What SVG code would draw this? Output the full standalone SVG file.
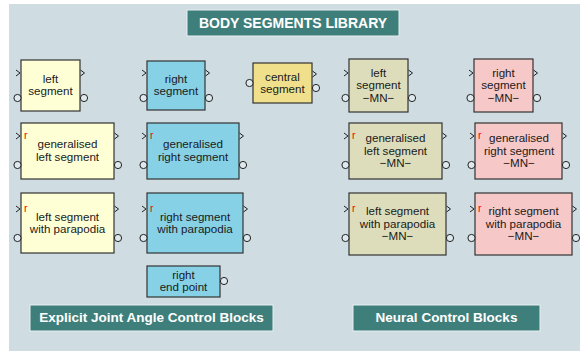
<svg xmlns="http://www.w3.org/2000/svg" width="580" height="351" viewBox="0 0 580 351">
  <style>
    .panel { fill: #cfdce2; }
    .banner { fill: #3f7f7b; stroke: #e6f0f0; stroke-width: 1; }
    .banner-text { font-family: "Liberation Sans", Arial, sans-serif; font-weight: bold; fill: #ffffff; text-anchor: middle; }
    .blk { stroke: #333333; stroke-width: 1.2; }
    .yellow { fill: #ffffd6; }
    .blue { fill: #87d1e7; }
    .gold { fill: #f0e08c; }
    .olive { fill: #ddddbb; }
    .pink { fill: #f7c8c8; }
    .lbl { font-family: "Liberation Sans", Arial, sans-serif; font-size: 11.6px; fill: #1a1a1a; text-anchor: middle; }
    .r { font-family: "Liberation Sans", Arial, sans-serif; font-size: 10.5px; fill: #ff0000; }
    .chev { fill: none; stroke: #222222; stroke-width: 1; }
    .port { fill: #dfe8ec; stroke: #222222; stroke-width: 1; }
  </style>
  <defs>
    <!-- inport / outport chevron, drawn with its tip at (0,0) -->
    <polyline id="chevIn" class="chev" points="-4,-3 0,0 -4,3"/>
    <polyline id="chevOut" class="chev" points="0,-3 4,0 0,3"/>
    <circle id="conn" class="port" r="3.6"/>
  </defs>

  <rect class="panel" x="9" y="4" width="571" height="347"/>

  <g id="title">
    <rect class="banner" x="187" y="10" width="212" height="26"/>
    <text class="banner-text" x="293" y="28" font-size="14">BODY SEGMENTS LIBRARY</text>
  </g>

  <!-- row 1 -->
  <g id="left-segment">
    <rect class="blk yellow" x="21" y="60" width="59" height="51"/>
    <use href="#chevIn" x="20" y="73"/>
    <use href="#chevOut" x="80.5" y="73"/>
    <use href="#conn" x="17.5" y="98"/>
    <use href="#conn" x="84" y="98"/>
    <text class="lbl" x="50.5" y="83">left</text>
    <text class="lbl" x="50.5" y="95">segment</text>
  </g>

  <g id="right-segment">
    <rect class="blk blue" x="147" y="61" width="58" height="49"/>
    <use href="#chevIn" x="146" y="73"/>
    <use href="#chevOut" x="205.5" y="73"/>
    <use href="#conn" x="143.5" y="98"/>
    <use href="#conn" x="209" y="98"/>
    <text class="lbl" x="176" y="83">right</text>
    <text class="lbl" x="176" y="95">segment</text>
  </g>

  <g id="central-segment">
    <rect class="blk gold" x="253" y="63" width="59" height="40"/>
    <use href="#conn" x="249.5" y="83"/>
    <use href="#chevOut" x="312.5" y="74"/>
    <use href="#conn" x="316" y="88"/>
    <text class="lbl" x="282.5" y="81">central</text>
    <text class="lbl" x="282.5" y="93">segment</text>
  </g>

  <g id="left-segment-mn">
    <rect class="blk olive" x="349" y="59" width="59" height="53"/>
    <use href="#chevIn" x="348" y="73"/>
    <use href="#chevOut" x="408.5" y="73"/>
    <use href="#conn" x="345.5" y="98"/>
    <use href="#conn" x="412" y="98"/>
    <text class="lbl" x="378.5" y="77">left</text>
    <text class="lbl" x="378.5" y="89">segment</text>
    <text class="lbl" x="378.5" y="102">−MN−</text>
  </g>

  <g id="right-segment-mn">
    <rect class="blk pink" x="474" y="59" width="59" height="53"/>
    <use href="#chevIn" x="473" y="73"/>
    <use href="#chevOut" x="533.5" y="73"/>
    <use href="#conn" x="470.5" y="98"/>
    <use href="#conn" x="537" y="98"/>
    <text class="lbl" x="503.5" y="77">right</text>
    <text class="lbl" x="503.5" y="89">segment</text>
    <text class="lbl" x="503.5" y="102">−MN−</text>
  </g>

  <!-- row 2 -->
  <g id="generalised-left-segment">
    <rect class="blk yellow" x="21" y="123" width="93" height="56"/>
    <use href="#chevIn" x="20" y="136"/>
    <use href="#chevOut" x="114.5" y="136"/>
    <use href="#conn" x="17.5" y="165"/>
    <use href="#conn" x="118" y="165"/>
    <text class="r" x="24" y="139">r</text>
    <text class="lbl" x="67.5" y="148">generalised</text>
    <text class="lbl" x="67.5" y="161">left segment</text>
  </g>

  <g id="generalised-right-segment">
    <rect class="blk blue" x="147" y="123" width="92" height="56"/>
    <use href="#chevIn" x="146" y="136"/>
    <use href="#chevOut" x="239.5" y="136"/>
    <use href="#conn" x="143.5" y="165"/>
    <use href="#conn" x="243" y="165"/>
    <text class="r" x="150" y="139">r</text>
    <text class="lbl" x="193" y="148">generalised</text>
    <text class="lbl" x="193" y="161">right segment</text>
  </g>

  <g id="generalised-left-segment-mn">
    <rect class="blk olive" x="349" y="123" width="93" height="56"/>
    <use href="#chevIn" x="348" y="136"/>
    <use href="#chevOut" x="442.5" y="136"/>
    <use href="#conn" x="345.5" y="165"/>
    <use href="#conn" x="446" y="165"/>
    <text class="r" x="352" y="139">r</text>
    <text class="lbl" x="395.5" y="142">generalised</text>
    <text class="lbl" x="395.5" y="155">left segment</text>
    <text class="lbl" x="395.5" y="167">−MN−</text>
  </g>

  <g id="generalised-right-segment-mn">
    <rect class="blk pink" x="475" y="123" width="87" height="56"/>
    <use href="#chevIn" x="474" y="136"/>
    <use href="#chevOut" x="562.5" y="136"/>
    <use href="#conn" x="471.5" y="165"/>
    <use href="#conn" x="566" y="165"/>
    <text class="r" x="478" y="139">r</text>
    <text class="lbl" x="519" y="142">generalised</text>
    <text class="lbl" x="519" y="155">right segment</text>
    <text class="lbl" x="519" y="167">−MN−</text>
  </g>

  <!-- row 3 -->
  <g id="left-segment-parapodia">
    <rect class="blk yellow" x="21" y="193" width="93" height="60"/>
    <use href="#chevIn" x="20" y="209"/>
    <use href="#chevOut" x="114.5" y="209"/>
    <use href="#conn" x="17.5" y="238"/>
    <use href="#conn" x="118" y="238"/>
    <text class="r" x="24" y="212">r</text>
    <text class="lbl" x="67.5" y="221">left segment</text>
    <text class="lbl" x="67.5" y="233">with parapodia</text>
  </g>

  <g id="right-segment-parapodia">
    <rect class="blk blue" x="147" y="193" width="96" height="60"/>
    <use href="#chevIn" x="146" y="209"/>
    <use href="#chevOut" x="243.5" y="209"/>
    <use href="#conn" x="143.5" y="238"/>
    <use href="#conn" x="247" y="238"/>
    <text class="r" x="150" y="212">r</text>
    <text class="lbl" x="195" y="221">right segment</text>
    <text class="lbl" x="195" y="233">with parapodia</text>
  </g>

  <g id="left-segment-parapodia-mn">
    <rect class="blk olive" x="349" y="193" width="97" height="62"/>
    <use href="#chevIn" x="348" y="209"/>
    <use href="#chevOut" x="446.5" y="209"/>
    <use href="#conn" x="345.5" y="238"/>
    <use href="#conn" x="450" y="238"/>
    <text class="r" x="352" y="212">r</text>
    <text class="lbl" x="397.5" y="215">left segment</text>
    <text class="lbl" x="397.5" y="228">with parapodia</text>
    <text class="lbl" x="397.5" y="240">−MN−</text>
  </g>

  <g id="right-segment-parapodia-mn">
    <rect class="blk pink" x="475" y="193" width="97" height="62"/>
    <use href="#chevIn" x="474" y="209"/>
    <use href="#chevOut" x="572.5" y="209"/>
    <use href="#conn" x="471.5" y="238"/>
    <use href="#conn" x="576" y="238"/>
    <text class="r" x="478" y="212">r</text>
    <text class="lbl" x="523.5" y="215">right segment</text>
    <text class="lbl" x="523.5" y="228">with parapodia</text>
    <text class="lbl" x="523.5" y="240">−MN−</text>
  </g>

  <!-- row 4 -->
  <g id="right-end-point">
    <rect class="blk blue" x="147" y="266" width="73" height="31"/>
    <use href="#conn" x="224" y="281"/>
    <text class="lbl" x="183.5" y="279">right</text>
    <text class="lbl" x="183.5" y="291">end point</text>
  </g>

  <g id="label-explicit">
    <rect class="banner" x="30" y="305" width="243" height="26"/>
    <text class="banner-text" x="151.5" y="322" font-size="13.5">Explicit Joint Angle Control Blocks</text>
  </g>

  <g id="label-neural">
    <rect class="banner" x="353" y="305" width="187" height="26"/>
    <text class="banner-text" x="446.5" y="322" font-size="13.5">Neural Control Blocks</text>
  </g>

  <g id="connectors"/>
</svg>
